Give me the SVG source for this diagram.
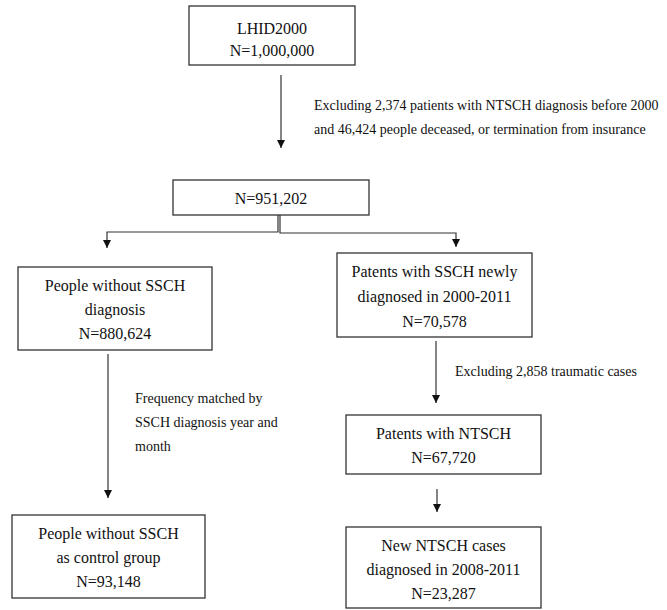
<svg xmlns="http://www.w3.org/2000/svg" width="667" height="610" viewBox="0 0 667 610">
<defs>
<style>
.box{fill:#fff;stroke:#333;stroke-width:1.3}
.t{font-family:"Liberation Serif","Times New Roman",serif;font-size:16px;fill:#111;text-anchor:middle}
.l{font-family:"Liberation Serif","Times New Roman",serif;font-size:14px;fill:#111}
.c{fill:none;stroke:#333;stroke-width:1.2}
</style>
<marker id="ah" viewBox="0 0 8 8" refX="8" refY="4" markerWidth="8" markerHeight="8" markerUnits="userSpaceOnUse" orient="auto">
<path d="M0,0 L8,4 L0,8 z" fill="#111"/>
</marker>
</defs>
<rect width="667" height="610" fill="#fff"/>
<g id="connectors">
<line class="c" x1="281" y1="75" x2="281" y2="148" marker-end="url(#ah)"/>
<path class="c" d="M278,215 V232 H107 V248" marker-end="url(#ah)"/>
<path class="c" d="M280,215 V233 H456 V247" marker-end="url(#ah)"/>
<line class="c" x1="108" y1="354" x2="108" y2="498" marker-end="url(#ah)"/>
<line class="c" x1="436" y1="341" x2="436" y2="403" marker-end="url(#ah)"/>
<line class="c" x1="437" y1="489" x2="437" y2="512" marker-end="url(#ah)"/>
</g>
<g id="labels">
<text class="l" x="314" y="110">Excluding 2,374 patients with NTSCH diagnosis before 2000</text>
<text class="l" x="314" y="134">and 46,424 people deceased, or termination from insurance</text>
<text class="l" x="135" y="403">Frequency matched by</text>
<text class="l" x="135" y="427">SSCH diagnosis year and</text>
<text class="l" x="135" y="451">month</text>
<text class="l" x="455" y="376">Excluding 2,858 traumatic cases</text>
</g>
<g id="n1">
<rect class="box" x="189" y="6" width="166" height="59"/>
<text class="t" x="272" y="34">LHID2000</text>
<text class="t" x="272" y="56">N=1,000,000</text>
</g>
<g id="n2">
<rect class="box" x="173" y="180" width="196" height="35"/>
<text class="t" x="271" y="204">N=951,202</text>
</g>
<g id="n3">
<rect class="box" x="18" y="267" width="194" height="83"/>
<text class="t" x="115" y="291">People without SSCH</text>
<text class="t" x="115" y="315">diagnosis</text>
<text class="t" x="115" y="339">N=880,624</text>
</g>
<g id="n4">
<rect class="box" x="337" y="253" width="195" height="84"/>
<text class="t" x="434.5" y="277">Patents with SSCH newly</text>
<text class="t" x="434.5" y="302">diagnosed in 2000-2011</text>
<text class="t" x="434.5" y="327">N=70,578</text>
</g>
<g id="n5">
<rect class="box" x="346" y="415" width="195" height="59"/>
<text class="t" x="443.5" y="439">Patents with NTSCH</text>
<text class="t" x="443.5" y="463">N=67,720</text>
</g>
<g id="n6">
<rect class="box" x="12" y="515" width="193" height="83"/>
<text class="t" x="108.5" y="539">People without SSCH</text>
<text class="t" x="108.5" y="563">as control group</text>
<text class="t" x="108.5" y="587">N=93,148</text>
</g>
<g id="n7">
<rect class="box" x="346" y="527" width="195" height="81"/>
<text class="t" x="443.5" y="551">New NTSCH cases</text>
<text class="t" x="443.5" y="575">diagnosed in 2008-2011</text>
<text class="t" x="443.5" y="599">N=23,287</text>
</g>
</svg>
